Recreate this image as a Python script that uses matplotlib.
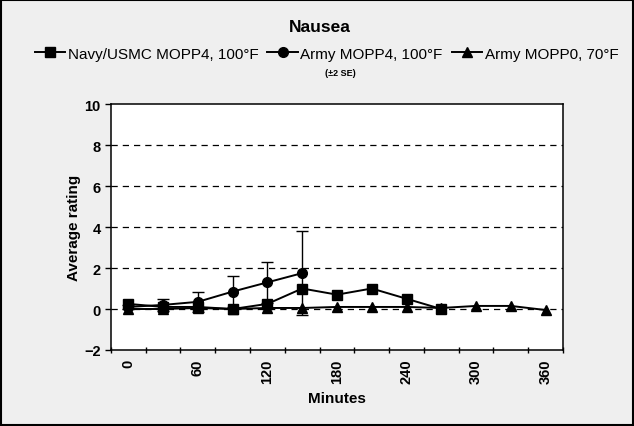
import matplotlib
matplotlib.use("Agg")
import matplotlib.pyplot as plt
from matplotlib.ticker import FixedLocator
from matplotlib.lines import Line2D

plt.rcParams['font.family'] = ['Liberation Sans', 'DejaVu Sans']

# minutes for each series
navy_x = [0, 30, 60, 90, 120, 150, 180, 210, 240, 270]
navy_y = [0.25, 0.1, 0.1, 0.0, 0.25, 1.0, 0.7, 1.0, 0.5, 0.0]

army4_x = [0, 30, 60, 90, 120, 150]
army4_y = [0.1, 0.2, 0.35, 0.85, 1.3, 1.75]
army4_se = [0.1, 0.3, 0.5, 0.75, 1.0, 2.05]   # 2 SE

army0_x = [0, 30, 60, 90, 120, 150, 180, 210, 240, 270, 300, 330, 360]
army0_y = [0.0, 0.0, 0.05, 0.0, 0.05, 0.05, 0.1, 0.1, 0.1, 0.05, 0.15, 0.15, -0.05]

labels = ['Navy/USMC MOPP4, 100°F', 'Army MOPP4, 100°F', 'Army MOPP0, 70°F']
x_labels = [0, 60, 120, 180, 240, 300, 360]
y_ticks = [-2, 0, 2, 4, 6, 8, 10]

fig = plt.figure(figsize=(6.34, 4.27), dpi=100)
fig.patch.set_facecolor('#efefef')
ax = fig.add_axes([0.175, 0.178, 0.713, 0.576])
ax.set_facecolor('white')

# dashed gridlines like the excel chart
for yv in y_ticks[1:-1]:
    ax.axhline(yv, color='black', lw=0.9, ls=(0, (5, 4)), zorder=1)

ax.plot(navy_x, navy_y, color='black', lw=1.4, marker='s', ms=7, zorder=3)
ax.errorbar(army4_x, army4_y, yerr=army4_se, color='black', lw=1.4,
            marker='o', ms=7, capsize=4, elinewidth=1.0, zorder=4)
ax.plot(army0_x, army0_y, color='black', lw=1.4, marker='^', ms=7, zorder=2)

ax.set_xlim(-15, 375)
ax.set_ylim(-2, 10)
ax.set_yticks(y_ticks)
ax.set_xticks(x_labels)
ax.set_xticklabels([str(v) for v in x_labels], rotation=90, fontweight='bold', fontsize=10.5)
ax.xaxis.set_minor_locator(FixedLocator([-15 + 30 * k for k in range(14)]))
ax.tick_params(axis='x', which='major', length=0, pad=6)
ax.tick_params(axis='x', which='minor', length=4, direction='inout', width=1)
ax.tick_params(axis='y', length=4, direction='out', width=1, labelsize=10.5)
for lab in ax.get_yticklabels():
    lab.set_fontweight('bold')

for sp in ax.spines.values():
    sp.set_linewidth(1.1)

ax.set_xlabel('Minutes', fontweight='bold', fontsize=11, labelpad=6)
ax.set_ylabel('Average rating', fontweight='bold', fontsize=11, labelpad=2)

fig.text(0.505, 0.935, 'Nausea', ha='center', va='center', fontweight='bold', fontsize=12.5)
handles = [Line2D([], [], color='black', lw=1.4, marker=m, ms=7) for m in ['s', 'o', '^']]
fig.legend(handles, labels, loc='center', bbox_to_anchor=(0.515, 0.872), ncol=3, frameon=False,
           fontsize=11, handlelength=2.0, handletextpad=0.15, columnspacing=0.6)
fig.text(0.537, 0.827, '(±2 SE)', ha='center', va='center', fontweight='bold', fontsize=6.5)

# outer frame
fig.add_artist(plt.Rectangle((0.002, 0.002), 0.996, 0.996, transform=fig.transFigure,
                             fill=False, edgecolor='black', lw=1.5))

fig.savefig('out.png', dpi=100, facecolor=fig.get_facecolor())
